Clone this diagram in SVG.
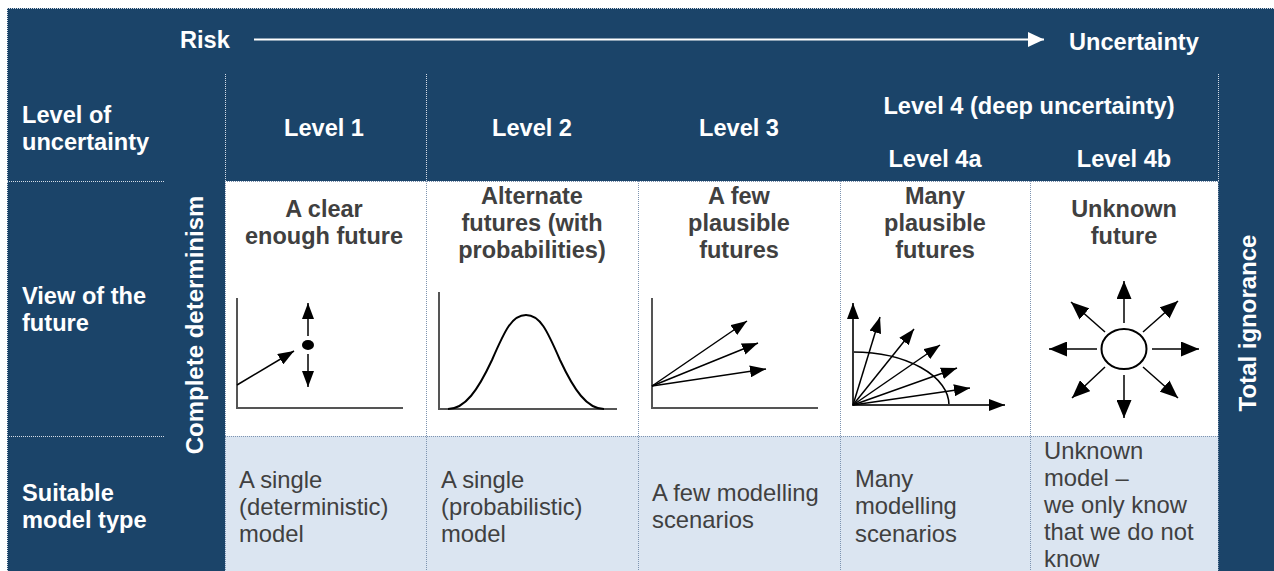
<svg xmlns="http://www.w3.org/2000/svg" width="1274" height="571" viewBox="0 0 1274 571">
<style>
.hd{font-family:"Liberation Sans",Arial,sans-serif;font-weight:bold;font-size:23.6px;fill:#ffffff}
.tt{font-family:"Liberation Sans",Arial,sans-serif;font-weight:bold;font-size:23.5px;fill:#404040;text-anchor:middle}
.bd{font-family:"Liberation Sans",Arial,sans-serif;font-size:23.8px;fill:#404040}
.rot{font-family:"Liberation Sans",Arial,sans-serif;font-weight:bold;font-size:24px;fill:#ffffff;text-anchor:middle}
.c{text-anchor:middle}
.dl{stroke:#d5dde7;stroke-width:1;stroke-dasharray:1 1;fill:none}
.dd{stroke:#7d93b0;stroke-width:1;stroke-dasharray:1 1;fill:none}
.ax{stroke:#555555;stroke-width:2;fill:none}
.ar{stroke:#000000;stroke-width:1.5;fill:none}
</style>
<defs>
<marker id="ah" viewBox="0 0 16 12" markerWidth="16" markerHeight="12" refX="16" refY="6" orient="auto" markerUnits="userSpaceOnUse">
<path d="M0,0 L16,6 L0,12 Z" fill="#000000"/>
</marker>
<marker id="ahb" viewBox="0 0 18 15" markerWidth="18" markerHeight="15" refX="18" refY="7.5" orient="auto" markerUnits="userSpaceOnUse">
<path d="M0,0 L18,7.5 L0,15 Z" fill="#000000"/>
</marker>
<marker id="ahw" viewBox="0 0 16 15" markerWidth="16" markerHeight="15" refX="16" refY="7.5" orient="auto" markerUnits="userSpaceOnUse">
<path d="M0,0 L16,7.5 L0,15 Z" fill="#ffffff"/>
</marker>
</defs>
<rect x="0" y="0" width="1274" height="571" fill="#ffffff"/>
<rect x="7" y="8" width="1267" height="563" fill="#1b4469"/>
<line class="dl" x1="7" y1="8.5" x2="1274" y2="8.5"/>
<line class="dl" x1="7.5" y1="8" x2="7.5" y2="571"/>
<rect x="225" y="181" width="993" height="255" fill="#ffffff"/>
<rect x="225" y="436" width="993" height="135" fill="#dbe5f1"/>

<g id="grid">
<line class="dl" x1="225.5" y1="74" x2="225.5" y2="181"/>
<line class="dl" x1="426.5" y1="74" x2="426.5" y2="181"/>
<line class="dl" x1="1218.5" y1="74" x2="1218.5" y2="181"/>
<line class="dl" x1="7" y1="181.5" x2="165" y2="181.5"/>
<line class="dl" x1="7" y1="436.5" x2="165" y2="436.5"/>
<line class="dd" x1="225" y1="181.5" x2="1218" y2="181.5"/>
<line class="dd" x1="225" y1="436.5" x2="1218" y2="436.5"/>
<line class="dd" x1="225.5" y1="181" x2="225.5" y2="571"/>
<line class="dd" x1="426.5" y1="181" x2="426.5" y2="571"/>
<line class="dd" x1="638.5" y1="181" x2="638.5" y2="571"/>
<line class="dd" x1="840.5" y1="181" x2="840.5" y2="571"/>
<line class="dd" x1="1030.5" y1="181" x2="1030.5" y2="571"/>
<line class="dd" x1="1218.5" y1="181" x2="1218.5" y2="571"/>
</g>

<g id="connectors">
<line x1="254" y1="39.5" x2="1044" y2="39.5" stroke="#ffffff" stroke-width="2" marker-end="url(#ahw)"/>
</g>

<g id="axis-labels">
<text class="hd" x="180" y="48">Risk</text>
<text class="hd" x="1069" y="50">Uncertainty</text>
</g>

<g id="row-labels">
<text class="hd" x="22" y="123">Level of</text>
<text class="hd" x="22" y="150">uncertainty</text>
<text class="hd" x="22" y="304">View of the</text>
<text class="hd" x="22" y="331">future</text>
<text class="hd" x="22" y="501">Suitable</text>
<text class="hd" x="22" y="528">model type</text>
</g>

<g id="complete-determinism">
<text class="rot" transform="translate(203,325) rotate(-90)">Complete determinism</text>
</g>
<g id="total-ignorance">
<text class="rot" transform="translate(1256,323) rotate(-90)">Total ignorance</text>
</g>

<g id="level-headers">
<text class="hd c" x="324" y="136">Level 1</text>
<text class="hd c" x="532" y="136">Level 2</text>
<text class="hd c" x="739" y="136">Level 3</text>
<text class="hd c" x="1029" y="114">Level 4 (deep uncertainty)</text>
<text class="hd c" x="935" y="167">Level 4a</text>
<text class="hd c" x="1124" y="167">Level 4b</text>
</g>

<g id="level1">
<text class="tt" x="324" y="217">A clear</text>
<text class="tt" x="324" y="244">enough future</text>
<line class="ax" x1="237" y1="298" x2="237" y2="408"/>
<line class="ax" x1="236" y1="408" x2="403" y2="408"/>
<line class="ar" x1="237" y1="385" x2="294" y2="351" marker-end="url(#ah)"/>
<ellipse cx="308" cy="345" rx="6" ry="5" fill="#000000"/>
<line class="ar" x1="308" y1="336" x2="308" y2="303" marker-end="url(#ah)"/>
<line class="ar" x1="308" y1="354" x2="308" y2="387" marker-end="url(#ah)"/>
<text class="bd" x="239" y="488">A single</text>
<text class="bd" x="239" y="515">(deterministic)</text>
<text class="bd" x="239" y="542">model</text>
</g>

<g id="level2">
<text class="tt" x="532" y="204">Alternate</text>
<text class="tt" x="532" y="231">futures (with</text>
<text class="tt" x="532" y="258">probabilities)</text>
<line class="ax" x1="439" y1="292" x2="439" y2="409"/>
<line class="ax" x1="438" y1="409" x2="617" y2="409"/>
<path d="M448,409 C465,409 478,390 492,360 C505,330 512,315 526,315 C540,315 547,330 560,360 C574,390 587,409 604,409" stroke="#000000" stroke-width="2" fill="none"/>
<text class="bd" x="441" y="488">A single</text>
<text class="bd" x="441" y="515">(probabilistic)</text>
<text class="bd" x="441" y="542">model</text>
</g>

<g id="level3">
<text class="tt" x="739" y="204">A few</text>
<text class="tt" x="739" y="231">plausible</text>
<text class="tt" x="739" y="258">futures</text>
<line class="ax" x1="652" y1="298" x2="652" y2="408"/>
<line class="ax" x1="651" y1="408" x2="818" y2="408"/>
<line class="ar" x1="652" y1="386" x2="747" y2="321" marker-end="url(#ah)"/>
<line class="ar" x1="652" y1="386" x2="758" y2="343" marker-end="url(#ah)"/>
<line class="ar" x1="652" y1="386" x2="766" y2="369" marker-end="url(#ah)"/>
<text class="bd" x="652" y="501">A few modelling</text>
<text class="bd" x="652" y="528">scenarios</text>
</g>

<g id="level4a">
<text class="tt" x="935" y="204">Many</text>
<text class="tt" x="935" y="231">plausible</text>
<text class="tt" x="935" y="258">futures</text>
<path d="M853,352 A96,53 0 0 1 949,405" stroke="#000000" stroke-width="1.5" fill="none"/>
<line x1="853" y1="406" x2="853" y2="303" stroke="#333333" stroke-width="2" marker-end="url(#ah)"/>
<line x1="852" y1="405" x2="1005" y2="405" stroke="#333333" stroke-width="2" marker-end="url(#ah)"/>
<line class="ar" x1="853" y1="405" x2="880" y2="317" marker-end="url(#ah)"/>
<line class="ar" x1="853" y1="405" x2="914" y2="329" marker-end="url(#ah)"/>
<line class="ar" x1="853" y1="405" x2="940" y2="345" marker-end="url(#ah)"/>
<line class="ar" x1="853" y1="405" x2="957" y2="368" marker-end="url(#ah)"/>
<line class="ar" x1="853" y1="405" x2="970" y2="388" marker-end="url(#ah)"/>
<text class="bd" x="855" y="487">Many</text>
<text class="bd" x="855" y="514">modelling</text>
<text class="bd" x="855" y="542">scenarios</text>
</g>

<g id="level4b">
<text class="tt" x="1124" y="217">Unknown</text>
<text class="tt" x="1124" y="244">future</text>
<ellipse cx="1124" cy="349" rx="22.5" ry="20" stroke="#000000" stroke-width="2" fill="#ffffff"/>
<line class="ar" x1="1124" y1="323" x2="1124" y2="281" marker-end="url(#ahb)"/>
<line class="ar" x1="1124" y1="375" x2="1124" y2="418" marker-end="url(#ahb)"/>
<line class="ar" x1="1097" y1="349" x2="1049" y2="349" marker-end="url(#ahb)"/>
<line class="ar" x1="1152" y1="349" x2="1199" y2="349" marker-end="url(#ahb)"/>
<line class="ar" x1="1105" y1="332" x2="1071" y2="302" marker-end="url(#ahb)"/>
<line class="ar" x1="1143" y1="332" x2="1178" y2="301" marker-end="url(#ahb)"/>
<line class="ar" x1="1105" y1="367" x2="1072" y2="398" marker-end="url(#ahb)"/>
<line class="ar" x1="1143" y1="367" x2="1178" y2="398" marker-end="url(#ahb)"/>
<text class="bd" x="1044" y="459">Unknown</text>
<text class="bd" x="1044" y="486">model –</text>
<text class="bd" x="1044" y="513">we only know</text>
<text class="bd" x="1044" y="540">that we do not</text>
<text class="bd" x="1044" y="567">know</text>
</g>
</svg>
